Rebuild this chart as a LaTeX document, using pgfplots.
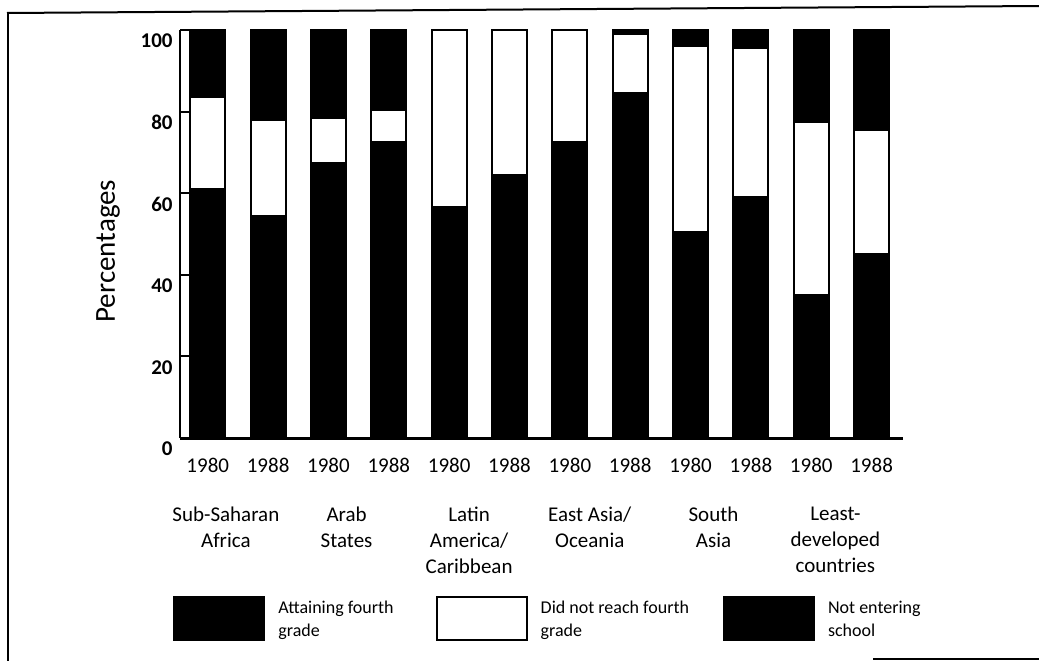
\documentclass[border=0pt]{standalone}
\usepackage{pgfplots}
\usepackage{pgfplotstable}
\pgfplotsset{compat=1.18}
\usepackage{fontspec}
\setmainfont{Carlito}

\pgfplotstableread{
x att did noten
0 61 22.5 16.5
1 54.5 23.5 22
2 67.5 11 21.5
3 72.5 8 19.5
4 56.5 43.5 0
5 64.5 35.5 0
6 72.5 27.5 0
7 84.5 14.5 1
8 50.5 45.5 4
9 59 36.5 4.5
10 35 42.5 22.5
11 45 30.5 24.5
}\data

\tikzset{reg/.style={anchor=north, align=center, inner sep=0pt, font=\fontsize{10.5}{13}\selectfont}}

\begin{document}
\begin{tikzpicture}
\begin{axis}[
  at={(90pt,111.5pt)}, anchor=south west,
  scale only axis, width=361.5pt, height=204pt,
  xmin=-0.46, xmax=11.52, ymin=0, ymax=100,
  clip=false, axis on top,
  axis x line=bottom, axis y line=left,
  axis line style={-, line width=1pt, black},
  x axis line style={-, line width=1.5pt},
  ybar stacked, bar width=17.5pt,
  xtick={0,1,2,3,4,5,6,7,8,9,10,11},
  xticklabels={1980,1988,1980,1988,1980,1988,1980,1988,1980,1988,1980,1988},
  x tick style={draw=none},
  xticklabel style={anchor=north, inner sep=0pt, yshift=-10pt, font=\fontsize{10.5}{12}\selectfont},
  ytick={0,20,40,60,80,100},
  y tick style={line width=1pt, black},
  tick align=inside, major tick length=5pt,
  yticklabel style={anchor=east, inner sep=0pt, xshift=-3.5pt, yshift=-5.5pt, font=\fontsize{10.5}{12}\selectfont\bfseries},
  /pgf/number format/assume math mode=true,
  legend style={at={(axis description cs:-0.0097,-0.387)}, anchor=north west,
    draw=none, fill=none, inner sep=0pt,
    font=\fontsize{9}{11.5}\selectfont,
    cells={align=left},
    /tikz/every odd column/.append style={column sep=4.5pt},
    /tikz/column 2/.append style={column sep=19pt},
    /tikz/column 4/.append style={column sep=15pt}},
  legend columns=3,
]
\addplot[fill=black, draw=black, line width=1pt,
  legend image code/.code={\draw[fill=black,draw=black,line width=1pt] (0pt,-10pt) rectangle (45pt,11.5pt);}]
  table[x=x, y=att] {\data};
\addlegendentry{Attaining fourth\\grade}
\addplot[fill=white, draw=black, line width=1pt,
  legend image code/.code={\draw[fill=white,draw=black,line width=1pt] (0pt,-10pt) rectangle (45pt,11.5pt);}]
  table[x=x, y=did] {\data};
\addlegendentry{Did not reach fourth\\grade}
\addplot[fill=black, draw=black, line width=1pt,
  legend image code/.code={\draw[fill=black,draw=black,line width=1pt] (0pt,-10pt) rectangle (45pt,11.5pt);}]
  table[x=x, y=noten] {\data};
\addlegendentry{Not entering\\school}

\draw[line width=1pt] ([xshift=5pt]axis cs:-0.46,0) -- ([xshift=5pt]axis cs:-0.46,100);

\node[rotate=90, font=\fontsize{14.5}{17}\selectfont] at (axis description cs:-0.0996,0.458) {Percentages};

\node[reg] at ([yshift=-34.5pt]axis cs:0.3,0) {Sub-Saharan\\Africa};
\node[reg] at ([yshift=-34.5pt]axis cs:2.3,0) {Arab\\States};
\node[reg] at ([yshift=-34.5pt]axis cs:4.33,0) {Latin\\America/\\Caribbean};
\node[reg] at ([yshift=-34.5pt]axis cs:6.33,0) {East Asia/\\Oceania};
\node[reg] at ([yshift=-34.5pt]axis cs:8.38,0) {South\\Asia};
\node[reg] at ([yshift=-34.5pt]axis cs:10.4,0) {Least-\\developed\\countries};
\end{axis}

\draw[line width=1pt] (3.5pt,324pt) -- (519.5pt,327.5pt);
\draw[line width=1pt] (4pt,324pt) -- (4pt,0pt);
\draw[line width=1pt] (436.5pt,1pt) -- (519.5pt,1pt);

\pgfresetboundingbox
\path (0,0) rectangle (519.5pt,330.5pt);
\end{tikzpicture}
\end{document}
